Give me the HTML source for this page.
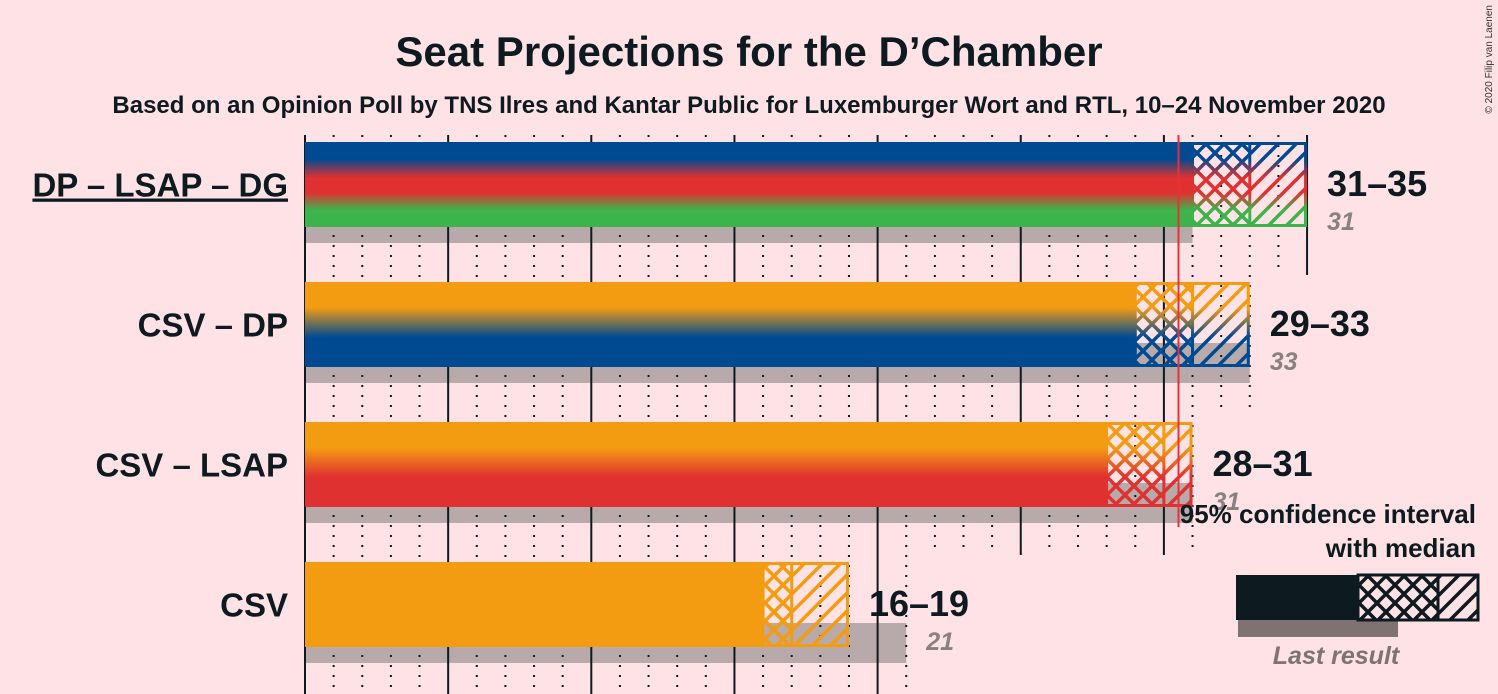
<!DOCTYPE html>
<html><head><meta charset="utf-8"><style>
body{margin:0;background:#ffe2e5;}
svg{display:block;font-family:"Liberation Sans",sans-serif;}
</style></head><body>
<svg id="c" width="1498" height="694" viewBox="0 0 1498 694">
<defs>
<pattern id="cross" patternUnits="userSpaceOnUse" width="18" height="18">
<path d="M-3,3 L3,-3 M0,18 L18,0 M15,21 L21,15 M-3,15 L3,21 M0,0 L18,18 M15,-3 L21,3" stroke="white" stroke-width="3.5"/>
</pattern>
<pattern id="diag" patternUnits="userSpaceOnUse" width="18" height="18">
<path d="M-3,3 L3,-3 M0,18 L18,0 M15,21 L21,15" stroke="white" stroke-width="3.5"/>
</pattern>
<mask id="mcross"><rect x="0" y="0" width="1498" height="694" fill="url(#cross)"/></mask>
<mask id="mdiag"><rect x="0" y="0" width="1498" height="694" fill="url(#diag)"/></mask>
<linearGradient id="g0" x1="0" y1="0" x2="0" y2="1"><stop offset="0.2" stop-color="#004a92"/><stop offset="0.42" stop-color="#e03131"/><stop offset="0.6" stop-color="#e03131"/><stop offset="0.8" stop-color="#3cb44b"/></linearGradient>
<linearGradient id="g1" x1="0" y1="0" x2="0" y2="1"><stop offset="0.3" stop-color="#f39c12"/><stop offset="0.65" stop-color="#004a92"/></linearGradient>
<linearGradient id="g2" x1="0" y1="0" x2="0" y2="1"><stop offset="0.3" stop-color="#f39c12"/><stop offset="0.65" stop-color="#e03131"/></linearGradient>
<linearGradient id="g3" x1="0" y1="0" x2="0" y2="1"><stop offset="0" stop-color="#f39c12"/><stop offset="1" stop-color="#f39c12"/></linearGradient>
</defs>
<text x="749" y="66" text-anchor="middle" font-size="42" font-weight="bold" fill="#0d1a20">Seat Projections for the D’Chamber</text>
<text x="749" y="113" text-anchor="middle" font-size="24" font-weight="bold" fill="#0d1a20">Based on an Opinion Poll by TNS Ilres and Kantar Public for Luxemburger Wort and RTL, 10–24 November 2020</text>
<text x="1492" y="5" transform="rotate(-90 1492 5)" text-anchor="end" font-size="10" fill="#333">© 2020 Filip van Laenen</text>
<g id="rows"></g>
<line x1="1178.5" y1="135" x2="1178.5" y2="527" stroke="#e8303a" stroke-width="2"/>
<g>
<text x="1476" y="523" text-anchor="end" font-size="26" font-weight="bold" fill="#0d1a20">95% confidence interval</text>
<text x="1476" y="557" text-anchor="end" font-size="26" font-weight="bold" fill="#0d1a20">with median</text>
<rect x="1238" y="620" width="160" height="17" fill="#7e7272"/>
<rect x="1236" y="575" width="122" height="45" fill="#0d1a20"/>
<rect x="1358" y="575" width="80" height="45" fill="#0d1a20" mask="url(#mcross)"/>
<rect x="1358" y="575" width="80" height="45" fill="none" stroke="#0d1a20" stroke-width="3"/>
<rect x="1438" y="575" width="40" height="45" fill="#0d1a20" mask="url(#mdiag)"/>
<rect x="1438" y="575" width="40" height="45" fill="none" stroke="#0d1a20" stroke-width="3"/>
<text x="1336" y="664" text-anchor="middle" font-size="25" font-style="italic" font-weight="bold" fill="#7e7272">Last result</text>
</g>
</svg>
<script>
const coalitions = ["DP – LSAP – DG","CSV – DP","CSV – LSAP","CSV"];
const lowSeats = [31,29,28,16];
const medianSeats = [33,31,30,17];
const highSeats = [35,33,31,19];
const lastResult = [31,33,31,21];
const NS="http://www.w3.org/2000/svg";
const x0=305, pps=28.63;
const xs=s=>x0+s*pps;
const g=document.getElementById('rows');
function mk(tag,attrs,parent){const e=document.createElementNS(NS,tag);for(const k in attrs)e.setAttribute(k,attrs[k]);(parent||g).appendChild(e);return e;}
coalitions.forEach((name,i)=>{
  const top=142+i*140, h=85;
  const grp=mk('g',{});
  
  
  const maxS=Math.max(highSeats[i],lastResult[i]);
  const gr=mk('rect',{x:x0,y:top+61,width:xs(lastResult[i])-x0,height:40,fill:'#b8aaaa'},grp);
  
  
  for(let s=0;s<=maxS;s++){
    const major=s%5===0;
    const t=mk('line',{x1:xs(s),x2:xs(s),y1:top-7,y2:top+133,stroke:'#0d1a20','stroke-width':2,'stroke-dasharray':major?'none':'2,8'},grp);
    
    
  }
  const fill='url(#g'+i+')';
  const sb=mk('rect',{x:x0,y:top,width:xs(lowSeats[i])-x0,height:h,fill:fill},grp);
  
  
  const cb=mk('rect',{x:xs(lowSeats[i]),y:top,width:xs(medianSeats[i])-xs(lowSeats[i]),height:h,fill:fill,mask:'url(#mcross)'},grp);
  
  
  const db=mk('rect',{x:xs(medianSeats[i]),y:top,width:xs(highSeats[i])-xs(medianSeats[i]),height:h,fill:fill,mask:'url(#mdiag)'},grp);
  
  
  mk('rect',{x:xs(lowSeats[i]),y:top+1.5,width:xs(highSeats[i])-xs(lowSeats[i])-1.5,height:h-3,fill:'none',stroke:fill,'stroke-width':3},grp);
  mk('rect',{x:xs(medianSeats[i])-1.5,y:top,width:3,height:h,fill:fill},grp);
  const lb=mk('text',{x:288,y:top+h/2+12,'text-anchor':'end','font-size':33,'font-weight':'bold',fill:'#0d1a20'},grp);
  lb.textContent=name;
  if(i===0)lb.setAttribute('text-decoration','underline');
  
  
  const rl=mk('text',{x:xs(highSeats[i])+20,y:top+54,'font-size':36,'font-weight':'bold',fill:'#0d1a20'},grp);
  rl.textContent=lowSeats[i]+'–'+highSeats[i];
  
  
  const ll=mk('text',{x:(i===3?xs(lastResult[i]):xs(highSeats[i]))+20,y:top+88,'font-size':25,'font-style':'italic','font-weight':'bold',fill:'#8a8080'},grp);
  ll.textContent=lastResult[i];
  
  
});
</script>
</body></html>
